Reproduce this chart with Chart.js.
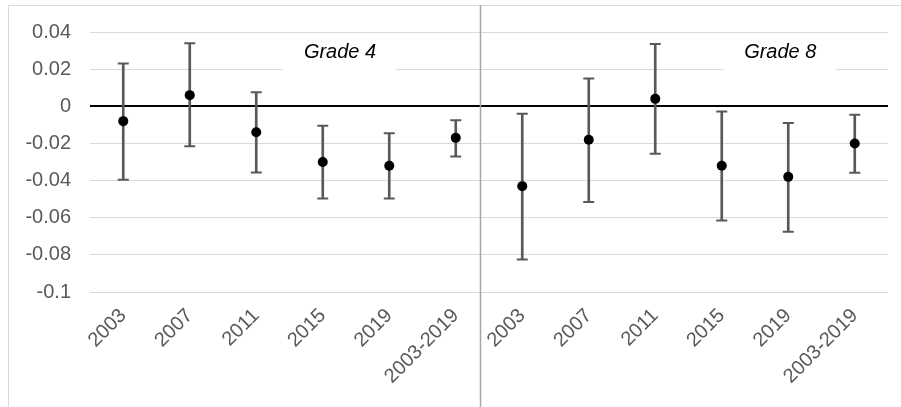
<!DOCTYPE html>
<html>
<head>
<meta charset="utf-8">
<script src="https://cdn.jsdelivr.net/npm/chart.js@4.4.1/dist/chart.umd.min.js"></script>
<style>
  html, body { margin: 0; padding: 0; background: #fff; }
  #wrap { width: 901px; height: 407px; position: relative; }
</style>
</head>
<body>
<div id="wrap"><canvas id="errChart"></canvas></div>
<script>
// categories (grade 4 then grade 8)
var categories = ["2003", "2007", "2011", "2015", "2019", "2003-2019",
                  "2003", "2007", "2011", "2015", "2019", "2003-2019"];

// point estimates
var estimates = [-0.008, 0.006, -0.014, -0.030, -0.032, -0.017,
                 -0.043, -0.018, 0.004, -0.032, -0.038, -0.020];

// upper and lower ends of the error bars
var upper = [0.023, 0.034, 0.0075, -0.0105, -0.0145, -0.0075,
             -0.004, 0.015, 0.0335, -0.0028, -0.009, -0.0045];
var lower = [-0.0395, -0.0215, -0.0357, -0.0497, -0.0497, -0.027,
             -0.0825, -0.0515, -0.0255, -0.0615, -0.0675, -0.0358];

// y axis ticks
var yTicks = [0.04, 0.02, 0, -0.02, -0.04, -0.06, -0.08, -0.1];
var yTickLabels = ["0.04", "0.02", "0", "-0.02", "-0.04", "-0.06", "-0.08", "-0.1"];

// panel titles
var panelTitles = ["Grade 4", "Grade 8"];

var barColor = "#595959";
var fontFam = "'Liberation Sans', Arial, sans-serif";

var ranges = lower.map(function (l, i) { return [l, upper[i]]; });

// frame, separator and the two "Grade" boxes
var decorations = {
  id: "decorations",
  beforeDraw: function (chart) {
    var c = chart.ctx;
    c.save();
    c.strokeStyle = "#d9d9d9";
    c.lineWidth = 1;
    c.beginPath();
    c.moveTo(8.5, chart.height);
    c.lineTo(8.5, 5.5);
    c.lineTo(chart.width, 5.5);
    c.stroke();
    c.restore();
  },
  beforeDatasetsDraw: function (chart) {
    var c = chart.ctx;
    var x = chart.scales.x, y = chart.scales.y;
    c.save();
    // separator between grades
    var sx = Math.round(x.getPixelForValue(5.37)) + 0.5;
    c.strokeStyle = "#a6a6a6";
    c.lineWidth = 1.5;
    c.beginPath();
    c.moveTo(sx, 5);
    c.lineTo(sx, chart.height);
    c.stroke();
    // title boxes
    var spots = [3.26, 9.88];
    var ty = y.getPixelForValue(0.029);
    c.font = "italic 20px " + fontFam;
    c.textAlign = "center";
    c.textBaseline = "middle";
    for (var i = 0; i < spots.length; i++) {
      var tx = x.getPixelForValue(spots[i]);
      c.fillStyle = "#fff";
      c.fillRect(tx - 57, ty - 14, 113, 38);
      c.fillStyle = "#000";
      c.fillText(panelTitles[i], tx, ty);
    }
    c.restore();
  }
};

var ctx = document.getElementById("errChart").getContext("2d");
var errChart = new Chart(ctx, {
  data: {
    labels: categories,
    datasets: [
      {
        type: "bar",
        label: "range",
        data: ranges,
        backgroundColor: barColor,
        barThickness: 2,
        order: 3
      },
      {
        type: "line",
        label: "upper",
        data: upper,
        showLine: false,
        pointStyle: "line",
        pointRadius: 5.5,
        pointBorderWidth: 2,
        pointBorderColor: barColor,
        order: 2
      },
      {
        type: "line",
        label: "lower",
        data: lower,
        showLine: false,
        pointStyle: "line",
        pointRadius: 5.5,
        pointBorderWidth: 2,
        pointBorderColor: barColor,
        order: 2
      },
      {
        type: "line",
        label: "estimate",
        data: estimates,
        showLine: false,
        pointRadius: 5,
        pointBackgroundColor: "#000",
        pointBorderColor: "#000",
        pointBorderWidth: 0,
        order: 1
      }
    ]
  },
  options: {
    responsive: true,
    maintainAspectRatio: false,
    animation: false,
    layout: { padding: { top: 32, right: 13, left: 0, bottom: 0 } },
    plugins: {
      legend: { display: false },
      tooltip: { enabled: false }
    },
    scales: {
      x: {
        grid: { display: false },
        border: { display: false },
        ticks: {
          color: "#595959",
          font: { family: fontFam, size: 20 },
          minRotation: 45,
          maxRotation: 45,
          autoSkip: false,
          padding: 4
        },
        afterFit: function (scale) { scale.height = 115; }
      },
      y: {
        min: -0.1,
        max: 0.04,
        border: { display: false },
        grid: {
          drawTicks: false,
          color: function (c) { return Math.abs(c.tick.value) < 1e-9 ? "#000" : "#d9d9d9"; },
          lineWidth: function (c) { return Math.abs(c.tick.value) < 1e-9 ? 2 : 1; }
        },
        afterBuildTicks: function (scale) {
          scale.ticks = yTicks.map(function (v) { return { value: v }; });
        },
        ticks: {
          color: "#595959",
          font: { family: fontFam, size: 20 },
          padding: 19,
          callback: function (value, index) { return yTickLabels[index]; }
        },
        afterFit: function (scale) { scale.width = 90; }
      }
    }
  },
  plugins: [decorations]
});
</script>
</body>
</html>
